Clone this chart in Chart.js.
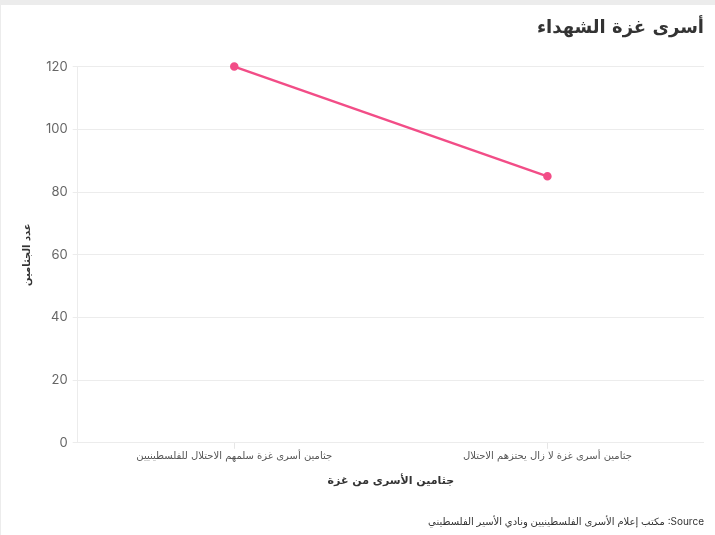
<!DOCTYPE html>
<html>
<head>
<meta charset="utf-8">
<script src="https://cdn.jsdelivr.net/npm/chart.js@4"></script>
<style>
  html, body { margin: 0; padding: 0; background: #ececec; width: 715px; height: 535px; overflow: hidden; }
  #wrap { position: absolute; left: 1px; top: 5px; width: 714px; height: 530px; background: #fff; }
  canvas { display: block; }
</style>
</head>
<body>
<div id="wrap"><canvas id="c" width="714" height="530"></canvas></div>
<script>
const categories = [
  'جثامين أسرى غزة سلمهم الاحتلال للفلسطينيين',
  'جثامين أسرى غزة لا زال يحتزهم الاحتلال'
];
const bodies = [120, 85];
const yTicks = [0, 20, 40, 60, 80, 100, 120];
const titleText = 'أسرى غزة الشهداء';
const xTitle = 'جثامين الأسرى من غزة';
const yTitle = 'عدد الجثامين';
const sourceText = 'مكتب إعلام الأسرى الفلسطينيين ونادي الأسير الفلسطيني :Source';

const FONT = "Inter, 'DejaVu Sans', sans-serif";
const ARFONT = "'DejaVu Sans', Arial, sans-serif";

new Chart(document.getElementById('c'), {
  type: 'line',
  data: {
    labels: categories,
    datasets: [{
      label: yTitle,
      data: bodies,
      borderColor: '#f24d87',
      backgroundColor: '#f24d87',
      borderWidth: 2.5,
      pointRadius: 3,
      pointHoverRadius: 3,
      tension: 0,
      clip: false
    }]
  },
  options: {
    responsive: false,
    animation: false,
    devicePixelRatio: 1,
    layout: { padding: { left: 20, right: 11, top: 0, bottom: 6 } },
    plugins: {
      legend: { display: false },
      tooltip: { enabled: false },
      title: {
        display: true,
        text: titleText,
        align: 'end',
        color: '#333',
        font: { family: ARFONT, size: 18, weight: 'bold' },
        padding: { top: 13, bottom: 27 }
      },
      subtitle: {
        display: true,
        position: 'bottom',
        text: sourceText,
        align: 'end',
        color: '#333',
        font: { family: FONT, size: 10 },
        padding: { top: 28, bottom: 1 }
      }
    },
    scales: {
      x: {
        offset: true,
        grid: { display: true, drawOnChartArea: false, drawTicks: true, tickLength: 6, color: '#e6e6e6' },
        border: { display: false },
        ticks: { color: '#555', font: { family: ARFONT, size: 10 }, padding: 2, maxRotation: 0 },
        title: { display: true, text: xTitle, color: '#333', font: { family: ARFONT, size: 11, weight: 'bold' }, padding: { top: 10, bottom: 0 } }
      },
      y: {
        min: 0,
        max: 120,
        afterBuildTicks: (axis) => { axis.ticks = yTicks.map(v => ({ value: v })); },
        grid: { color: '#ececec', tickLength: 5, drawTicks: true },
        border: { display: true, color: '#ececec' },
        ticks: { color: '#666', font: { family: FONT, size: 13 }, padding: 5 },
        title: { display: true, text: yTitle, color: '#333', font: { family: ARFONT, size: 10, weight: 'bold' }, padding: { top: 0, bottom: 8 } }
      }
    }
  }
});
</script>
</body>
</html>
